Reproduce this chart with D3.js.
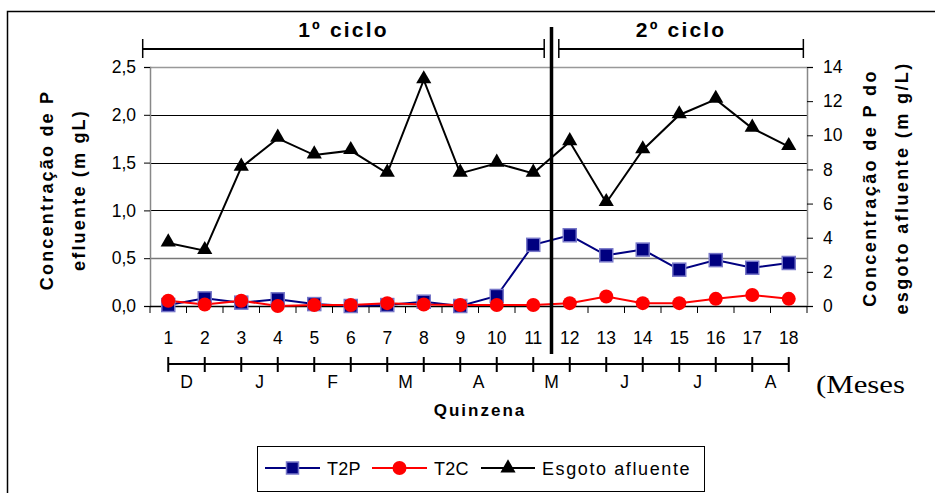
<!DOCTYPE html>
<html>
<head>
<meta charset="utf-8">
<script src="https://cdn.jsdelivr.net/npm/d3@7"></script>
<style>
  html, body { margin: 0; padding: 0; background: #fff; }
  svg { display: block; font-family: Arial, "Liberation Sans", sans-serif; }
</style>
</head>
<body>
<svg id="chart" width="935" height="493"></svg>
<script>
// ---------- data ----------
const quinzenas = [1,2,3,4,5,6,7,8,9,10,11,12,13,14,15,16,17,18];
const t2p = [0.01,0.08,0.035,0.07,0.02,0.0,0.01,0.045,0.0,0.105,0.64,0.74,0.53,0.59,0.38,0.48,0.40,0.45];
const t2c = [0.055,0.015,0.055,0.0,0.01,0.01,0.03,0.015,0.01,0.01,0.01,0.03,0.10,0.03,0.03,0.075,0.115,0.075];
const esgoto = [3.69,3.24,8.12,9.82,8.84,9.10,7.77,13.24,7.77,8.36,7.77,9.62,6.05,9.14,11.19,12.10,10.41,9.33];
const leftTicks = [0, 0.5, 1.0, 1.5, 2.0, 2.5];
const rightTicks = [0, 2, 4, 6, 8, 10, 12, 14];
const monthLabels = ["D","J","F","M","A","M","J","J","A"];
const monthPos = [1.5, 3.5, 5.5, 7.5, 9.5, 11.5, 13.5, 15.5, 17.5];
const cycles = [{label:"1º ciclo", from:0.3, to:11.3}, {label:"2º ciclo", from:11.7, to:18.4}];
const seriesNames = ["T2P", "T2C", "Esgoto afluente"];

// ---------- layout ----------
const svg = d3.select("#chart");
const L = 150, R = 807, T = 67, B = 306;

const x = d3.scaleBand().domain(quinzenas).range([L, R]).paddingInner(0).paddingOuter(0);
const cx = d => x(d) + x.bandwidth() / 2;
const xc = d3.scaleLinear().domain([1, 18]).range([cx(1), cx(18)]);
const yL = d3.scaleLinear().domain([0, 2.5]).range([B, T]);
const yR = d3.scaleLinear().domain([0, 14]).range([B, T]);

// outer frame
svg.append("rect").attr("x", 7.5).attr("y", 11.5).attr("width", 960).attr("height", 520)
  .attr("fill", "none").attr("stroke", "#000").attr("stroke-width", 1.5);

// gridlines
const gridStyle = {0.5: ["#777", 1.6], 2.5: ["#999", 1.6]};
svg.append("g").selectAll("line").data(leftTicks.filter(d => d > 0)).join("line")
  .attr("x1", L).attr("x2", R)
  .attr("y1", d => Math.round(yL(d)) + 0.5).attr("y2", d => Math.round(yL(d)) + 0.5)
  .attr("stroke", d => gridStyle[d] ? gridStyle[d][0] : "#000")
  .attr("stroke-width", d => gridStyle[d] ? gridStyle[d][1] : 1);

// left axis
const gL = svg.append("g").attr("transform", `translate(${L},0)`)
  .call(d3.axisLeft(yL).tickValues(leftTicks).tickSize(6).tickPadding(8)
    .tickFormat(d => d3.format(".1f")(d).replace(".", ",")));
gL.select(".domain").attr("stroke", "#888").attr("stroke-width", 1.5);
gL.selectAll(".tick line").attr("stroke", "#000");
gL.selectAll("text").attr("font-size", 17.5).attr("fill", "#000").attr("font-family", "Arial, 'Liberation Sans'");

// right axis
const gR = svg.append("g").attr("transform", `translate(${R},0)`)
  .call(d3.axisRight(yR).tickValues(rightTicks).tickSize(6).tickPadding(10));
gR.select(".domain").attr("stroke", "#888").attr("stroke-width", 1.5);
gR.selectAll(".tick line").attr("stroke", "#000");
gR.selectAll("text").attr("font-size", 17.5).attr("fill", "#000").attr("font-family", "Arial, 'Liberation Sans'");

// bottom axis (category boundaries as ticks)
const gB = svg.append("g").attr("transform", `translate(0,${B})`);
gB.append("line").attr("x1", L).attr("x2", R).attr("y1", 0.5).attr("y2", 0.5).attr("stroke", "#000").attr("stroke-width", 1.5);
gB.selectAll("line.tk").data(quinzenas.concat([19])).join("line").attr("class", "tk")
  .attr("x1", d => d <= 18 ? x(d) : R).attr("x2", d => d <= 18 ? x(d) : R)
  .attr("y1", 0).attr("y2", 7).attr("stroke", "#000").attr("stroke-width", 1);
gB.selectAll("text").data(quinzenas).join("text")
  .attr("x", d => cx(d)).attr("y", 38).attr("text-anchor", "middle")
  .attr("font-size", 17.5).text(d => d);

// month row
const yM = 364;
svg.append("line").attr("x1", xc(1)).attr("x2", xc(18)).attr("y1", yM).attr("y2", yM)
  .attr("stroke", "#000").attr("stroke-width", 2);
svg.append("g").selectAll("line").data(quinzenas).join("line")
  .attr("x1", d => xc(d)).attr("x2", d => xc(d)).attr("y1", yM - 7).attr("y2", yM + 8)
  .attr("stroke", "#000").attr("stroke-width", 2);
svg.append("g").selectAll("text").data(monthLabels).join("text")
  .attr("x", (d, i) => xc(monthPos[i])).attr("y", 388).attr("text-anchor", "middle")
  .attr("font-size", 17.5).text(d => d);
svg.append("text").attr("x", 816).attr("y", 393).attr("font-family", "'Liberation Serif', 'Times New Roman', serif")
  .attr("font-size", 25).attr("textLength", 89).attr("lengthAdjust", "spacingAndGlyphs").text("(Meses");

// axis titles
svg.append("text").attr("x", 480).attr("y", 416).attr("text-anchor", "middle")
  .attr("font-size", 17).attr("font-weight", "bold").attr("letter-spacing", 2).text("Quinzena");

const leftTitle = svg.append("text").attr("transform", "translate(0,190) rotate(-90)")
  .attr("text-anchor", "middle").attr("font-size", 18).attr("font-weight", "bold").attr("letter-spacing", 2.2);
leftTitle.append("tspan").attr("x", 0).attr("y", 53).text("Concentração de P");
leftTitle.append("tspan").attr("x", 0).attr("y", 85).text("efluente (m gL)");

const rightTitle = svg.append("text").attr("transform", "translate(0,188) rotate(-90)")
  .attr("text-anchor", "middle").attr("font-size", 18).attr("font-weight", "bold").attr("letter-spacing", 2.4);
rightTitle.append("tspan").attr("x", 0).attr("y", 876).text("Concentração de P do");
rightTitle.append("tspan").attr("x", 0).attr("y", 908).text("esgoto afluente (m g/L)");

// cycle brackets
const yBr = 49;
cycles.forEach(c => {
  const x1 = xc(c.from), x2 = xc(c.to);
  const g = svg.append("g");
  g.append("line").attr("x1", x1).attr("x2", x2).attr("y1", yBr).attr("y2", yBr).attr("stroke", "#000").attr("stroke-width", 2);
  [x1, x2].forEach(xx => g.append("line").attr("x1", xx).attr("x2", xx).attr("y1", yBr - 10).attr("y2", yBr + 9)
    .attr("stroke", "#000").attr("stroke-width", 1.5));
  g.append("text").attr("x", (x1 + x2) / 2).attr("y", 37).attr("text-anchor", "middle")
    .attr("font-size", 21).attr("font-weight", "bold").attr("letter-spacing", 2.2).text(c.label);
});

// series lines
const lineL = d3.line().x((d, i) => cx(quinzenas[i])).y(d => yL(d));
const lineR = d3.line().x((d, i) => cx(quinzenas[i])).y(d => yR(d));

svg.append("path").attr("d", lineR(esgoto)).attr("fill", "none").attr("stroke", "#000").attr("stroke-width", 2);
svg.append("path").attr("d", lineL(t2p)).attr("fill", "none").attr("stroke", "#000080").attr("stroke-width", 2);
svg.append("path").attr("d", lineL(t2c)).attr("fill", "none").attr("stroke", "#ff0000").attr("stroke-width", 2);

const tri = d3.symbol().type(d3.symbolTriangle).size(100);
svg.append("g").selectAll("path").data(esgoto).join("path")
  .attr("d", tri).attr("transform", (d, i) => `translate(${cx(quinzenas[i])},${yR(d) - 1})`)
  .attr("fill", "#000");

svg.append("g").selectAll("rect").data(t2p).join("rect")
  .attr("x", (d, i) => cx(quinzenas[i]) - 6.5).attr("y", d => yL(d) - 6.5)
  .attr("width", 13).attr("height", 13)
  .attr("fill", "#000080").attr("stroke", "#7777c8").attr("stroke-width", 1.5);

svg.append("g").selectAll("circle").data(t2c).join("circle")
  .attr("cx", (d, i) => cx(quinzenas[i])).attr("cy", d => yL(d)).attr("r", 7)
  .attr("fill", "#ff0000");

// cycle divider (thick vertical line)
svg.append("line").attr("x1", xc(11.5)).attr("x2", xc(11.5)).attr("y1", 27).attr("y2", 354)
  .attr("stroke", "#000").attr("stroke-width", 3.5);

// legend
const lg = svg.append("g");
lg.append("rect").attr("x", 257.5).attr("y", 446.5).attr("width", 447).attr("height", 45)
  .attr("fill", "#fff").attr("stroke", "#000").attr("stroke-width", 1);
const legItems = [
  {x1: 265, x2: 320, tx: 327, color: "#000080", mark: "square"},
  {x1: 372, x2: 427, tx: 434, color: "#ff0000", mark: "circle"},
  {x1: 481, x2: 535, tx: 542, color: "#000", mark: "triangle"}
];
legItems.forEach((it, i) => {
  const ly = 468;
  lg.append("line").attr("x1", it.x1).attr("x2", it.x2).attr("y1", ly).attr("y2", ly)
    .attr("stroke", it.color).attr("stroke-width", 2);
  const mx = (it.x1 + it.x2) / 2;
  if (it.mark === "square") {
    lg.append("rect").attr("x", mx - 6).attr("y", ly - 6).attr("width", 12).attr("height", 12)
      .attr("fill", "#000080").attr("stroke", "#7777c8").attr("stroke-width", 1.5);
  } else if (it.mark === "circle") {
    lg.append("circle").attr("cx", mx).attr("cy", ly).attr("r", 7).attr("fill", "#ff0000");
  } else {
    lg.append("path").attr("d", tri).attr("transform", `translate(${mx},${ly})`).attr("fill", "#000");
  }
  lg.append("text").attr("x", it.tx).attr("y", ly + 6.5).attr("font-size", 18)
    .attr("letter-spacing", i === 2 ? 1.6 : 0.3).text(seriesNames[i]);
});
</script>
</body>
</html>
